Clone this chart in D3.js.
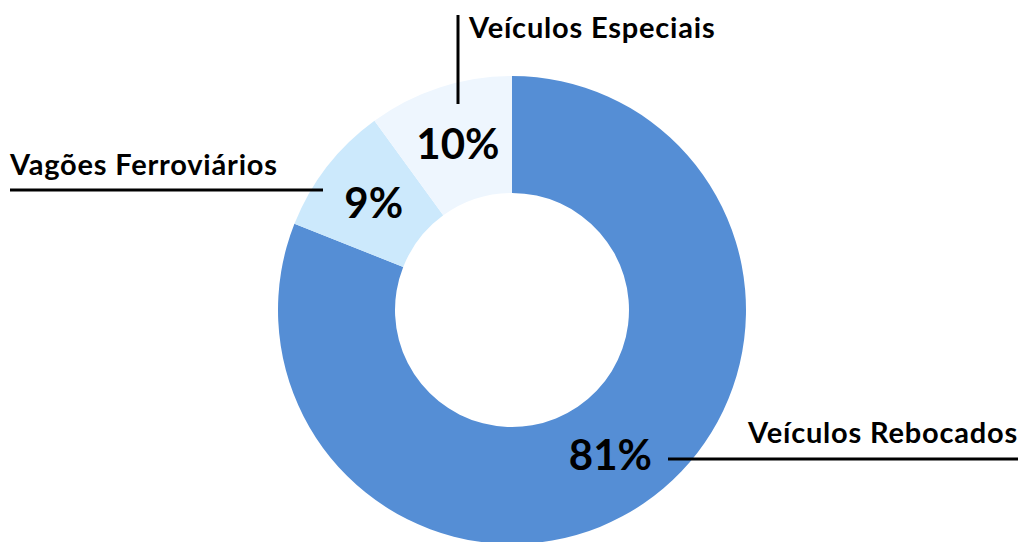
<!DOCTYPE html>
<html>
<head>
<meta charset="utf-8">
<script src="https://cdn.jsdelivr.net/npm/d3@7"></script>
<style>
  body { margin: 0; background: #fff; }
  svg text { font-family: Lato, "Open Sans", sans-serif; font-weight: bold; fill: #000; }
</style>
</head>
<body>
<div id="chart"></div>
<script>
// Data.
const categories = ["Veículos Rebocados", "Vagões Ferroviários", "Veículos Especiais"];
const shares = [81, 9, 10];
const colors = ["#558ED5", "#CCE9FC", "#EEF6FE"];

const width = 1021;
const height = 542;
const cx = 512;
const cy = 310;
const outerRadius = 234;
const innerRadius = 117;

const svg = d3.select("#chart")
  .append("svg")
  .attr("width", width)
  .attr("height", height);

const g = svg.append("g").attr("transform", `translate(${cx},${cy})`);

const pie = d3.pie().sort(null).value((d) => d.value);
const arcs = pie(categories.map((c, i) => ({ name: c, value: shares[i], color: colors[i] })));

const arc = d3.arc().innerRadius(innerRadius).outerRadius(outerRadius);
const labelArc = d3.arc().innerRadius(175).outerRadius(175);

// Slices.
g.selectAll("path.slice")
  .data(arcs)
  .join("path")
  .attr("class", "slice")
  .attr("d", arc)
  .attr("fill", (d) => d.data.color);

// Percentage labels.
g.selectAll("text.pct")
  .data(arcs)
  .join("text")
  .attr("class", "pct")
  .attr("x", (d) => labelArc.centroid(d)[0])
  .attr("y", (d) => labelArc.centroid(d)[1])
  .attr("dy", "0.37em")
  .attr("text-anchor", "middle")
  .style("font-size", "42px")
  .text((d) => `${d.data.value}%`);

// Category labels with leader lines (placed as in the original).
const callouts = [
  { text: categories[0], tx: 1018, ty: 443, anchor: "end", line: [[668, 459], [1018, 459]] },
  { text: categories[1], tx: 10, ty: 175, anchor: "start", line: [[10, 190], [323, 190]] },
  { text: categories[2], tx: 469, ty: 38, anchor: "start", line: [[458, 15], [458, 104]] },
];

svg.selectAll("line.leader")
  .data(callouts)
  .join("line")
  .attr("class", "leader")
  .attr("x1", (d) => d.line[0][0])
  .attr("y1", (d) => d.line[0][1])
  .attr("x2", (d) => d.line[1][0])
  .attr("y2", (d) => d.line[1][1])
  .attr("stroke", "#000")
  .attr("stroke-width", 3);

svg.selectAll("text.cat")
  .data(callouts)
  .join("text")
  .attr("class", "cat")
  .attr("x", (d) => d.tx)
  .attr("y", (d) => d.ty)
  .attr("text-anchor", (d) => d.anchor)
  .style("font-size", "29px")
  .style("letter-spacing", "0.8px")
  .text((d) => d.text);
</script>
</body>
</html>
